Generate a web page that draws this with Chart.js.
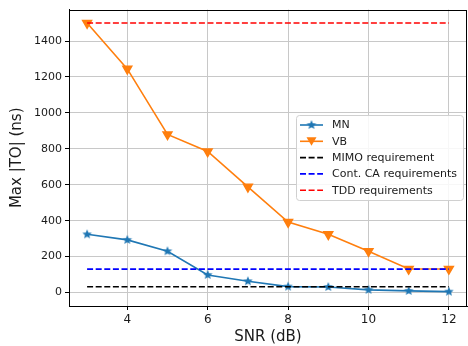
<!DOCTYPE html>
<html><head><meta charset="utf-8">
<script src="https://cdn.jsdelivr.net/npm/chart.js@4"></script>
<style>html,body{margin:0;padding:0;background:#fff}#c{display:block}</style>
</head><body>
<canvas id="c" width="468" height="346"></canvas>
<script>
const snr = [3,4,5,6,7,8,9,10,11,12];
const mnValues = [324,293,230,98,63,33,31,15,9,5];
const vbValues = [1500,1245,880,785,588,392,324,230,131,131];
const mimoReq = 32;
const caReq = 130;
const tddReq = 1500;
const xTicks = [4,6,8,10,12];
const yTicks = [0,200,400,600,800,1000,1200,1400];
const seriesNames = ['MN','VB','MIMO requirement','Cont. CA requirements','TDD requirements'];

const BLUE='#1f77b4', ORANGE='#ff7f0e';
function starImg(color, r){
  const s=Math.ceil(r*2+2); const c=document.createElement('canvas'); c.width=s;c.height=s;
  const g=c.getContext('2d'); g.fillStyle=color; g.beginPath();
  for(let i=0;i<10;i++){const a=-Math.PI/2+i*Math.PI/5; const rr=i%2?r*0.45:r; g.lineTo(s/2+rr*Math.cos(a), s/2+rr*Math.sin(a));}
  g.closePath(); g.fill(); return c;
}
const star = starImg(BLUE, 5);
const pts = (xs, ys) => xs.map((x,i)=>({x:x,y:ys[i]}));
const hline = (v) => [{x:snr[0],y:v},{x:snr[snr.length-1],y:v}];
const dash=[6,2.6];

const frame = {
  id:'frame',
  afterDraw(chart){
    const {ctx, chartArea:a} = chart;
    ctx.save(); ctx.strokeStyle='#000'; ctx.lineWidth=1;
    ctx.strokeRect(Math.round(a.left)+0.5, Math.round(a.top)+0.5, Math.round(a.right-a.left)-1, Math.round(a.bottom-a.top));
    // legend
    const lx=296, ly=115, lw=167, lh=85;
    ctx.fillStyle='rgba(255,255,255,0.85)'; ctx.strokeStyle='#d0d0d0'; ctx.lineWidth=1;
    ctx.beginPath(); ctx.roundRect(lx+0.5,ly+0.5,lw,lh,3); ctx.fill(); ctx.stroke();
    const items=[
      {c:BLUE,d:[],m:'star'},{c:ORANGE,d:[],m:'tri'},{c:'#000',d:dash},{c:'#0000ff',d:dash},{c:'#ff0000',d:dash}];
    ctx.font='11px "DejaVu Sans"'; ctx.textBaseline='middle';
    items.forEach((it,i)=>{
      const y=ly+10+i*16.3;
      ctx.strokeStyle=it.c; ctx.lineWidth=1.6; ctx.setLineDash(it.d);
      ctx.beginPath(); ctx.moveTo(300,y); ctx.lineTo(323,y); ctx.stroke(); ctx.setLineDash([]);
      if(it.m==='star') ctx.drawImage(star, 311.5-star.width/2, y-star.height/2);
      if(it.m==='tri'){ctx.fillStyle=ORANGE; ctx.beginPath(); ctx.moveTo(306.5,y-4); ctx.lineTo(316.5,y-4); ctx.lineTo(311.5,y+4.5); ctx.closePath(); ctx.fill();}
      ctx.fillStyle='#1a1a1a'; ctx.fillText(seriesNames[i], 332, y+0.5);
    });
    ctx.restore();
  }
};

new Chart(document.getElementById('c'), {
  type:'line',
  data:{datasets:[
    {label:seriesNames[0], data:pts(snr,mnValues), borderColor:BLUE, backgroundColor:BLUE, borderWidth:1.6, pointStyle:star, pointRadius:5, order:5},
    {label:seriesNames[1], data:pts(snr,vbValues), borderColor:ORANGE, backgroundColor:ORANGE, borderWidth:1.6, pointStyle:'triangle', rotation:180, pointRadius:5, order:4},
    {label:seriesNames[2], data:hline(mimoReq), borderColor:'#000', borderWidth:1.6, borderDash:dash, pointRadius:0, order:3},
    {label:seriesNames[3], data:hline(caReq), borderColor:'#0000ff', borderWidth:1.6, borderDash:dash, pointRadius:0, order:2},
    {label:seriesNames[4], data:hline(tddReq), borderColor:'#ff0000', borderWidth:1.6, borderDash:dash, pointRadius:0, order:1}
  ]},
  options:{
    responsive:false, animation:false, events:[],
    layout:{autoPadding:false, padding:{top:8,right:1,left:0,bottom:0}},
    plugins:{legend:{display:false}, tooltip:{enabled:false}},
    scales:{
      x:{type:'linear', min:2.55, max:12.45,
        afterBuildTicks:(s)=>{s.ticks=xTicks.map(v=>({value:v}));},
        afterFit:(s)=>{s.height=40;},
        grid:{color:'#c8c8c8', lineWidth:1, tickLength:4, tickColor:'#000'},
        border:{display:true,color:'#000'},
        ticks:{color:'#1a1a1a', font:{family:'DejaVu Sans', size:12}, padding:3, maxRotation:0, callback:(v)=>String(v)},
        title:{display:true, text:'SNR (dB)', color:'#1a1a1a', font:{family:'DejaVu Sans', size:15}, padding:{top:0,bottom:0}}
      },
      y:{type:'linear', min:-75, max:1575,
        afterBuildTicks:(s)=>{s.ticks=yTicks.map(v=>({value:v}));},
        afterFit:(s)=>{s.width=69;},
        grid:{color:'#c8c8c8', lineWidth:1, tickLength:4, tickColor:'#000'},
        border:{display:true,color:'#000'},
        ticks:{color:'#1a1a1a', font:{family:'DejaVu Sans', size:11}, padding:3, callback:(v)=>String(v)},
        title:{display:true, text:'Max |TO| (ns)', color:'#1a1a1a', font:{family:'DejaVu Sans', size:15}, padding:{top:8,bottom:0}}
      }
    }
  },
  plugins:[frame]
});
</script>
</body></html>
